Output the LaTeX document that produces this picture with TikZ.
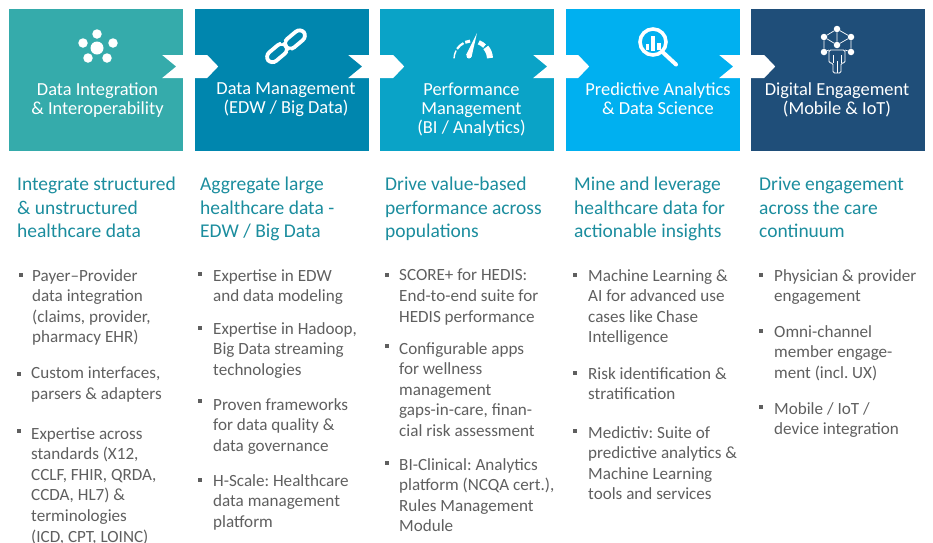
\documentclass[tikz,border=0pt]{standalone}
\usepackage{fontspec}
\setmainfont{Carlito}
\usepackage{xcolor}
\definecolor{tealbox}{HTML}{35ABAB}
\definecolor{bluebox}{HTML}{0086AE}
\definecolor{cyanbox}{HTML}{0AA3C7}
\definecolor{skybox}{HTML}{00B0F0}
\definecolor{navybox}{HTML}{1F4E79}
\definecolor{headcol}{HTML}{1B8D9E}
\definecolor{itemcol}{HTML}{5F5F5F}
\frenchspacing
\tikzset{x=1pt,y=-1pt,
 stage/.style={minimum width=174pt,minimum height=142pt,inner sep=0pt,draw=none},
 title/.style={text=white,align=center,anchor=north,inner sep=0pt,font=\fontsize{18.4}{19}\selectfont,execute at begin node=\strut},
 head/.style={text=headcol,align=left,anchor=north west,inner sep=0pt,font=\fontsize{19.5}{23.5}\selectfont,execute at begin node=\strut},
 item/.style={text=itemcol,align=left,anchor=north west,inner sep=0pt,font=\fontsize{17.1}{20.6}\selectfont,execute at begin node=\strut},
 bul/.style={fill=itemcol,inner sep=0pt,minimum size=3.5pt},
 dot/.style={circle,fill=white,inner sep=0pt,minimum size=#1},
 link/.style={draw=#1,rounded corners=6pt,line width=3.8pt,minimum width=23pt,minimum height=11pt,rotate=40,inner sep=0pt},
 }

\begin{document}
\begin{tikzpicture}
        \useasboundingbox (0,0) rectangle (933,542);
        % stages
        \node[stage,fill=tealbox] (s1) at (96,80) {};
        \node[stage,fill=bluebox] (s2) at (282,80) {};
        \node[stage,fill=cyanbox] (s3) at (467,80) {};
        \node[stage,fill=skybox] (s4) at (653,80) {};
        \node[stage,fill=navybox] (s5) at (838,80) {};
        \foreach \n in {s1,s2,s3,s4} {
            \fill[white] ([xshift=-21pt,yshift=25pt]\n.east) -- ([xshift=24pt,yshift=25pt]\n.east)
                -- ([xshift=35pt,yshift=13.5pt]\n.east) -- ([xshift=24pt,yshift=2pt]\n.east)
                -- ([xshift=-21pt,yshift=2pt]\n.east) -- ([xshift=-7pt,yshift=13.5pt]\n.east) -- cycle;
        }
        % titles
        \node[title] (t1) at (97.5,82.5) {Data Integration\\\& Interoperability};
        \node[title] (t2) at (286,82.5) {Data Management\\(EDW / Big Data)};
        \node[title] (t3) at (471.5,82.5) {Performance\\Management\\(BI / Analytics)};
        \node[title] (t4) at (658,82.5) {Predictive Analytics\\\& Data Science};
        \node[title] (t5) at (837,82.5) {Digital Engagement\\(Mobile \& IoT)};
        % icon 1
        \node[dot=13pt] (hub) at (97,48) {};
        \node[dot=9.5pt] (sat1) at (97,34) {};
        \node[dot=9.5pt] (sat2) at (83,43) {};
        \node[dot=9.5pt] (sat3) at (113,43) {};
        \node[dot=9.5pt] (sat4) at (88,58) {};
        \node[dot=9.5pt] (sat5) at (107,58) {};
        % icon 2
        \node[link=white] (chain1) at (277,53) {};
        \node[link=white] (chain2) at (295,39.5) {};
        \draw[bluebox,line width=3pt] (283,42.5) -- (280,39);
        \draw[bluebox,line width=3pt] (289,50.5) -- (292,54);
        % icon 3
        \coordinate (gauge) at (472,59);
        \foreach \a/\b/\w in {178/152/1.4,146/118/2.2,112/96/3,68/46/4.4,40/3/6} {
            \draw[white,line width=\w pt] ([shift={(\a:18pt)}]gauge) arc[start angle=\a,end angle=\b,radius=18pt];
        }
        \node[dot=5pt] (pivot) at (469,56) {};
        \coordinate (tip) at (477,33);
        \fill[white] (466,55) -- (tip) -- (471.5,57) -- cycle;
        % icon 4
        \draw[white,line width=3.6pt] (653,42) circle[radius=13pt];
        \draw[white,line width=4pt,line cap=round] (662.5,52) -- (676,64.5);
        \fill[white] (645.5,44) rectangle (648.5,49.5);
        \fill[white] (651,36) rectangle (654.5,51);
        \fill[white] (657,43) rectangle (660.5,49.5);
        % icon 5
        \node[dot=6.5pt] (n1) at (837,29) {};
        \node[dot=6.5pt] (n2) at (824,37) {};
        \node[dot=6.5pt] (n3) at (851,37) {};
        \node[dot=6.5pt] (n4) at (824,52) {};
        \node[dot=6.5pt] (n5) at (851,52) {};
        \node[dot=6.5pt] (n6) at (837,45) {};
        \draw[white,line width=.7pt] (n1) -- (n2) -- (n4) (n1) -- (n3) -- (n5) (n1) -- (n6) (n2) -- (n6) (n3) -- (n6);
        \draw[white,line width=.7pt] (n4) -- (829,50) (n5) -- (845,50);
        \draw[white,line width=.8pt,rounded corners=1.5pt] (829,63) -- (829,50) -- (845,50) -- (845,63) -- (841,63) -- (841,73) -- (833,73) -- (833,63) -- cycle;
        \draw[white,line width=.7pt] (837,73) -- (837,61) (833,63) -- (833,55) (841,63) -- (841,55);
        % headings
        \node[head] (h1) at (17,177) {Integrate structured\\\& unstructured\\healthcare data};
        \node[head] (h2) at (200,177) {Aggregate large\\healthcare data -\\EDW / Big Data};
        \node[head] (h3) at (385,177) {Drive value-based\\performance across\\populations};
        \node[head] (h4) at (574,177) {Mine and leverage\\healthcare data for\\actionable insights};
        \node[head] (h5) at (759,177) {Drive engagement\\across the care\\continuum};
        % column 1
        \node[bul] (b11) at (21,275) {};
        \node[item] (i11) at (32,269) {Payer--Provider\\data integration\\(claims, provider,\\pharmacy EHR)};
        \node[bul] (b12) at (19,374) {};
        \node[item] (i12) at (31,367) {Custom interfaces,\\parsers \& adapters};
        \node[bul] (b13) at (19,431) {};
        \node[item] (i13) at (31,427) {Expertise across\\standards (X12,\\CCLF, FHIR, QRDA,\\CCDA, HL7) \&\\terminologies\\(ICD, CPT, LOINC)};
        % column 2
        \node[bul] (b21) at (200,274) {};
        \node[item] (i21) at (213,269) {Expertise in EDW\\and data modeling};
        \node[bul] (b22) at (200,328) {};
        \node[item] (i22) at (213,322) {Expertise in Hadoop,\\Big Data streaming\\technologies};
        \node[bul] (b23) at (200,401) {};
        \node[item] (i23) at (213,398) {Proven frameworks\\for data quality \&\\data governance};
        \node[bul] (b24) at (200,480) {};
        \node[item] (i24) at (213,474) {H-Scale: Healthcare\\data management\\platform};
        % column 3
        \node[bul] (b31) at (387,275) {};
        \node[item] (i31) at (399,269) {SCORE+ for HEDIS:\\End-to-end suite for\\HEDIS performance};
        \node[bul] (b32) at (387,346) {};
        \node[item] (i32) at (399,342) {Configurable apps\\for wellness\\management\\gaps-in-care, finan-\\cial risk assessment};
        \node[bul] (b33) at (387,463) {};
        \node[item] (i33) at (399,458) {BI-Clinical: Analytics\\platform (NCQA cert.),\\Rules Management\\Module};
        % column 4
        \node[bul] (b41) at (575,275) {};
        \node[item] (i41) at (588,269) {Machine Learning \&\\AI for advanced use\\cases like Chase\\Intelligence};
        \node[bul] (b42) at (575,373) {};
        \node[item] (i42) at (588,367) {Risk identification \&\\stratification};
        \node[bul] (b43) at (575,431) {};
        \node[item] (i43) at (588,426) {Medictiv: Suite of\\predictive analytics \&\\Machine Learning\\tools and services};
        % column 5
        \node[bul] (b51) at (761,275) {};
        \node[item] (i51) at (774,269) {Physician \& provider\\engagement};
        \node[bul] (b52) at (761,331) {};
        \node[item] (i52) at (774,325) {Omni-channel\\member engage-\\ment (incl. UX)};
        \node[bul] (b53) at (761,407) {};
        \node[item] (i53) at (774,402) {Mobile / IoT /\\device integration};
    \end{tikzpicture}
\end{document}
